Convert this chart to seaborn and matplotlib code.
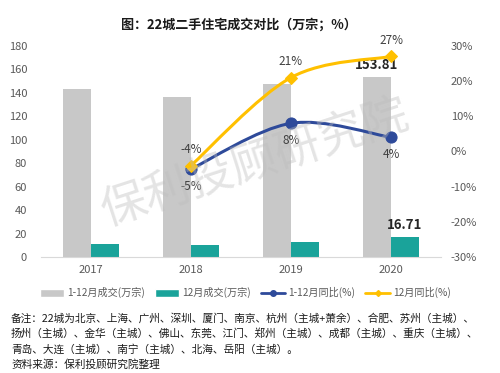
import pandas as pd
import numpy as np
import seaborn as sns
import matplotlib.pyplot as plt
from matplotlib.path import Path
from matplotlib.patches import PathPatch, Patch
from matplotlib.lines import Line2D

# DATOS
years = ['2017', '2018', '2019', '2020']
total_deals = [143.3, 136.6, 147.5, 153.81]      # 1-12月成交(万宗)
dec_deals = [11.1, 10.6, 12.9, 16.71]            # 12月成交(万宗)
line_years = ['2018', '2019', '2020']
total_yoy = [-5, 8, 4]                           # 1-12月同比(%)
dec_yoy = [-4, 21, 27]                           # 12月同比(%)
left_ticks = [0, 20, 40, 60, 80, 100, 120, 140, 160, 180]
right_ticks = [-30, -20, -10, 0, 10, 20, 30]

title = '图：22城二手住宅成交对比（万宗；%）'
nota = ['备注：22城为北京、上海、广州、深圳、厦门、南京、杭州（主城+萧余）、合肥、苏州（主城）、',
        '扬州（主城）、金华（主城）、佛山、东莞、江门、郑州（主城）、成都（主城）、重庆（主城）、',
        '青岛、大连（主城）、南宁（主城）、北海、岳阳（主城）。',
        '资料来源：保利投顾研究院整理']

GRIS = '#C8C8C8'
VERDE = '#1AA39A'
AZUL = '#2E4A9A'
AMARILLO = '#FFC000'
TXT = '#595959'

sns.set_style('white')
plt.rcParams['font.family'] = ['Noto Sans CJK SC', 'DejaVu Sans']


#CURVA SUAVE (CATMULL-ROM -> BEZIER) A TRAVES DE LOS PUNTOS
def curva_suave(ax, xs, ys, color):
    pts = np.column_stack([xs, ys]).astype(float)
    ext = np.vstack([pts[0], pts, pts[-1]])
    verts = [pts[0]]
    codes = [Path.MOVETO]
    for i in range(1, len(ext) - 2):
        p0, p1, p2, p3 = ext[i - 1], ext[i], ext[i + 1], ext[i + 2]
        c1 = p1 + (p2 - p0) / 6
        c2 = p2 - (p3 - p1) / 6
        verts += [c1, c2, p2]
        codes += [Path.CURVE4] * 3
    ax.add_patch(PathPatch(Path(verts, codes), facecolor='none', edgecolor=color, lw=2.2, zorder=3))


df_bar = pd.DataFrame({
    'year': years * 2,
    'valor': total_deals + dec_deals,
    'serie': ['1-12月成交(万宗)'] * 4 + ['12月成交(万宗)'] * 4,
})

fig = plt.figure(figsize=(5.0, 3.73), dpi=100)
ax = fig.add_axes([0.082, 0.311, 0.800, 0.566])

sns.barplot(data=df_bar, x='year', y='valor', hue='serie', palette=[GRIS, VERDE],
            width=0.56, gap=0, saturation=1, ax=ax, legend=False,
            linewidth=0, edgecolor='none')
ax.set_xlim(-0.5, 3.5)
ax.set_ylim(0, 180)
ax.set_yticks(left_ticks)
ax.set_xlabel('')
ax.set_ylabel('')
ax.tick_params(axis='both', length=0, labelsize=8, colors=TXT, pad=6)
ax.tick_params(axis='y', pad=10)
for s in ['top', 'right', 'left']:
    ax.spines[s].set_visible(False)
ax.spines['bottom'].set_color('#D9D9D9')

# etiquetas de 2020
pos_2020 = years.index('2020')
ax.annotate(f'{total_deals[-1]:.2f}', (pos_2020 - 0.14, total_deals[-1]), xytext=(0, 3),
            textcoords='offset points', ha='center', va='bottom', fontsize=9.5,
            fontweight='bold', color='#262626')
ax.annotate(f'{dec_deals[-1]:.2f}', (pos_2020 + 0.14, dec_deals[-1]), xytext=(0, 4),
            textcoords='offset points', ha='center', va='bottom', fontsize=9.5,
            fontweight='bold', color='#262626')

ax2 = ax.twinx()
ax2.set_ylim(-30, 30)
ax2.set_yticks(right_ticks)
ax2.set_yticklabels([f'{t}%' for t in right_ticks])
ax2.tick_params(axis='y', length=0, labelsize=8, colors=TXT, pad=7)
for s in ax2.spines.values():
    s.set_visible(False)

xl = [years.index(y) for y in line_years]
curva_suave(ax2, xl, dec_yoy, AMARILLO)
curva_suave(ax2, xl, total_yoy, AZUL)
sns.lineplot(x=xl, y=total_yoy, ax=ax2, color=AZUL, marker='o', markersize=8,
             linestyle='', markeredgecolor=AZUL, zorder=4)
sns.lineplot(x=xl, y=dec_yoy, ax=ax2, color=AMARILLO, marker='D', markersize=6,
             linestyle='', markeredgecolor=AMARILLO, zorder=5)
ax2.set_xlim(-0.5, 3.5)

for x, v in zip(xl, dec_yoy):
    ax2.annotate(f'{v}%', (x, v), xytext=(0, 7), textcoords='offset points',
                 ha='center', va='bottom', fontsize=8.5, color='#404040')
for x, v in zip(xl, total_yoy):
    ax2.annotate(f'{v}%', (x, v), xytext=(0, -8), textcoords='offset points',
                 ha='center', va='top', fontsize=8.5, color='#404040')

# marca de agua
fig.text(0.51, 0.563, '保利投顾研究院', rotation=18, fontsize=33, color='#BDBDBD',
         alpha=0.4, ha='center', va='center', zorder=10)

fig.text(0.478, 0.935, title, ha='center', va='center', fontsize=9.4, fontweight='bold',
         color='#1A1A1A')

handles = [Patch(facecolor=GRIS), Patch(facecolor=VERDE),
           Line2D([], [], color=AZUL, lw=2, marker='o', markersize=4),
           Line2D([], [], color=AMARILLO, lw=2, marker='D', markersize=3)]
labels = ['1-12月成交(万宗)', '12月成交(万宗)', '1-12月同比(%)', '12月同比(%)']
fig.legend(handles, labels, loc='center', bbox_to_anchor=(0.49, 0.215), ncol=4, frameon=False,
           fontsize=7.3, labelcolor=TXT, handlelength=2.4, handleheight=0.8, columnspacing=1.0,
           handletextpad=0.3)

for i, linea in enumerate(nota):
    fig.text(0.022, 0.148 - i * 0.042, linea, ha='left', va='center', fontsize=7.7,
             fontweight='medium', color='#1A1A1A')

fig.savefig('out.png', dpi=100)
